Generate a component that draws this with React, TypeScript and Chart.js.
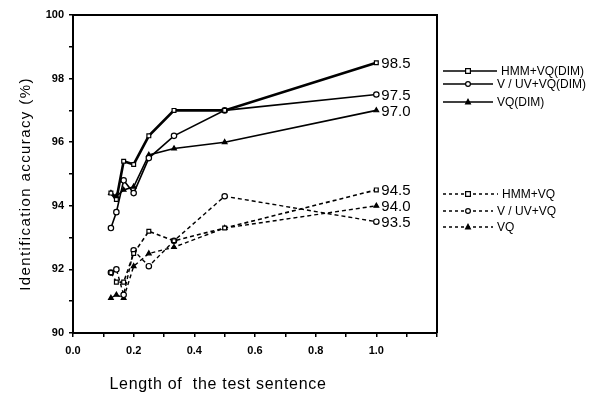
import React, { useEffect, useRef } from "react";
import { Chart, registerables } from "chart.js";

Chart.register(...registerables);

// Sentence length (fraction)
const lengths = [0.125, 0.143, 0.167, 0.2, 0.25, 0.333, 0.5, 1.0];

const hmmVqDim = [94.4, 94.2, 95.4, 95.3, 96.2, 97.0, 97.0, 98.5];
const vuvVqDim = [93.3, 93.8, 94.8, 94.4, 95.5, 96.2, 97.0, 97.5];
const vqDim = [94.4, 94.3, 94.5, 94.6, 95.6, 95.8, 96.0, 97.0];
const hmmVq = [91.9, 91.6, 91.6, 92.5, 93.2, 92.9, 93.3, 94.5];
const vuvVq = [91.9, 92.0, 91.2, 92.6, 92.1, 92.9, 94.3, 93.5];
const vq = [91.1, 91.2, 91.1, 92.1, 92.5, 92.7, 93.3, 94.0];

const seriesLabels = ["HMM+VQ(DIM)", "V / UV+VQ(DIM)", "VQ(DIM)", "HMM+VQ", "V / UV+VQ", "VQ"];
const seriesValues = [hmmVqDim, vuvVqDim, vqDim, hmmVq, vuvVq, vq];
const seriesMarkers = ["rect", "circle", "triangle", "rect", "circle", "triangle"];
const seriesDashed = [false, false, false, true, true, true];
const seriesWidths = [2.6, 1.6, 1.6, 1.6, 1.4, 1.4];

const xTitle = "Length of  the test sentence";
const yTitle = "Identification accuracy (%)";

const FONT = "'Liberation Sans', Arial, sans-serif";

function drawMarker(ctx: CanvasRenderingContext2D, style: string, x: number, y: number, r: number) {
  ctx.save();
  ctx.setLineDash([]);
  ctx.lineWidth = 1.2;
  ctx.strokeStyle = "#000";
  ctx.beginPath();
  if (style === "rect") {
    ctx.fillStyle = "#fff";
    ctx.rect(x - r, y - r, 2 * r, 2 * r);
  } else if (style === "circle") {
    ctx.fillStyle = "#fff";
    ctx.arc(x, y, r, 0, Math.PI * 2);
  } else {
    ctx.fillStyle = "#000";
    ctx.moveTo(x, y - r * 1.1);
    ctx.lineTo(x + r, y + r * 0.8);
    ctx.lineTo(x - r, y + r * 0.8);
    ctx.closePath();
  }
  ctx.fill();
  ctx.stroke();
  ctx.restore();
}

const decorPlugin = {
  id: "decor",
  afterDraw(chart: any) {
    const ctx: CanvasRenderingContext2D = chart.ctx;
    const area = chart.chartArea;
    const xs = chart.scales.x;
    const ys = chart.scales.y;
    ctx.save();
    // frame top and right
    ctx.strokeStyle = "#000";
    ctx.lineWidth = 2;
    ctx.setLineDash([]);
    ctx.beginPath();
    ctx.moveTo(area.left, area.top);
    ctx.lineTo(area.right, area.top);
    ctx.lineTo(area.right, area.bottom);
    ctx.stroke();

    // end labels
    ctx.fillStyle = "#000";
    ctx.font = `15px ${FONT}`;
    ctx.textAlign = "left";
    ctx.textBaseline = "middle";
    seriesValues.forEach((vals) => {
      const v = vals[vals.length - 1];
      const px = xs.getPixelForValue(lengths[lengths.length - 1]);
      const py = ys.getPixelForValue(v);
      ctx.fillText(v.toFixed(1), px + 5, py + 1);
    });

    // legend
    const rowsY = [71, 84, 102, 194, 211, 227];
    const textX = [501, 497, 497, 502, 497, 497];
    ctx.font = `12px ${FONT}`;
    seriesLabels.forEach((lab, i) => {
      const y = rowsY[i];
      ctx.save();
      ctx.strokeStyle = "#000";
      ctx.lineWidth = 1.3;
      ctx.setLineDash(seriesDashed[i] ? [3, 3] : []);
      ctx.beginPath();
      ctx.moveTo(443, y);
      ctx.lineTo(textX[i] - 4, y);
      ctx.stroke();
      ctx.restore();
      drawMarker(ctx, seriesMarkers[i], 468, y, 2.4);
      ctx.fillStyle = "#000";
      ctx.fillText(lab, textX[i], y + 1);
    });

    // axis titles
    ctx.font = `16px ${FONT}`;
    (ctx as any).letterSpacing = "0.7px";
    ctx.textAlign = "center";
    ctx.textBaseline = "middle";
    ctx.fillText(xTitle, 218, 385);
    ctx.save();
    ctx.translate(26, 184);
    ctx.rotate(-Math.PI / 2);
    ctx.font = `15px ${FONT}`;
    (ctx as any).letterSpacing = "1.4px";
    ctx.fillText(yTitle, 0, 0);
    ctx.restore();
    ctx.restore();
  },
};

export default function App() {
  const ref = useRef<HTMLCanvasElement>(null);
  useEffect(() => {
    document.body.style.margin = "0";
    const datasets = seriesLabels.map((label, i) => ({
      label,
      data: lengths.map((x, j) => ({ x, y: seriesValues[i][j] })),
      borderColor: "#000",
      borderWidth: seriesWidths[i],
      borderDash: seriesDashed[i] ? [4, 3] : [],
      pointStyle: seriesMarkers[i] as any,
      pointRadius: 2.7,
      pointBorderWidth: 1.2,
      pointBackgroundColor: seriesMarkers[i] === "triangle" ? "#000" : "#fff",
      pointBorderColor: "#000",
      fill: false,
      tension: 0,
    }));
    const chart = new Chart(ref.current!, {
      type: "line",
      data: { datasets },
      options: {
        responsive: false,
        animation: false,
        layout: { padding: { top: 15, right: 152, left: 0, bottom: 0 } },
        plugins: { legend: { display: false }, tooltip: { enabled: false } },
        scales: {
          x: {
            type: "linear",
            min: 0,
            max: 1.2,
            afterFit: (s: any) => {
              s.height = 63;
            },
            ticks: {
              stepSize: 0.1,
              autoSkip: false,
              maxRotation: 0,
              padding: 7,
              color: "#000",
              font: { family: FONT, size: 11, weight: "bold" },
              callback: (v: any) => {
                const t = Math.round(Number(v) * 10);
                return t % 2 === 0 && t <= 10 ? (t / 10).toFixed(1) : "";
              },
            },
            grid: { drawOnChartArea: false, drawTicks: true, tickLength: 4, color: "#000", lineWidth: 1.5 },
            border: { display: true, color: "#000", width: 2 },
          },
          y: {
            type: "linear",
            min: 90,
            max: 100,
            afterFit: (s: any) => {
              s.width = 73;
            },
            ticks: {
              stepSize: 1,
              autoSkip: false,
              padding: 5,
              color: "#000",
              font: { family: FONT, size: 11, weight: "bold" },
              callback: (v: any) => {
                const n = Math.round(Number(v));
                return n % 2 === 0 ? String(n) : "";
              },
            },
            grid: { drawOnChartArea: false, drawTicks: true, tickLength: 4, color: "#000", lineWidth: 1.5 },
            border: { display: true, color: "#000", width: 2 },
          },
        },
      },
      plugins: [decorPlugin],
    });
    return () => chart.destroy();
  }, []);
  return (
    <div style={{ width: 589, height: 396, background: "#fff" }}>
      <canvas ref={ref} width={589} height={396} />
    </div>
  );
}
